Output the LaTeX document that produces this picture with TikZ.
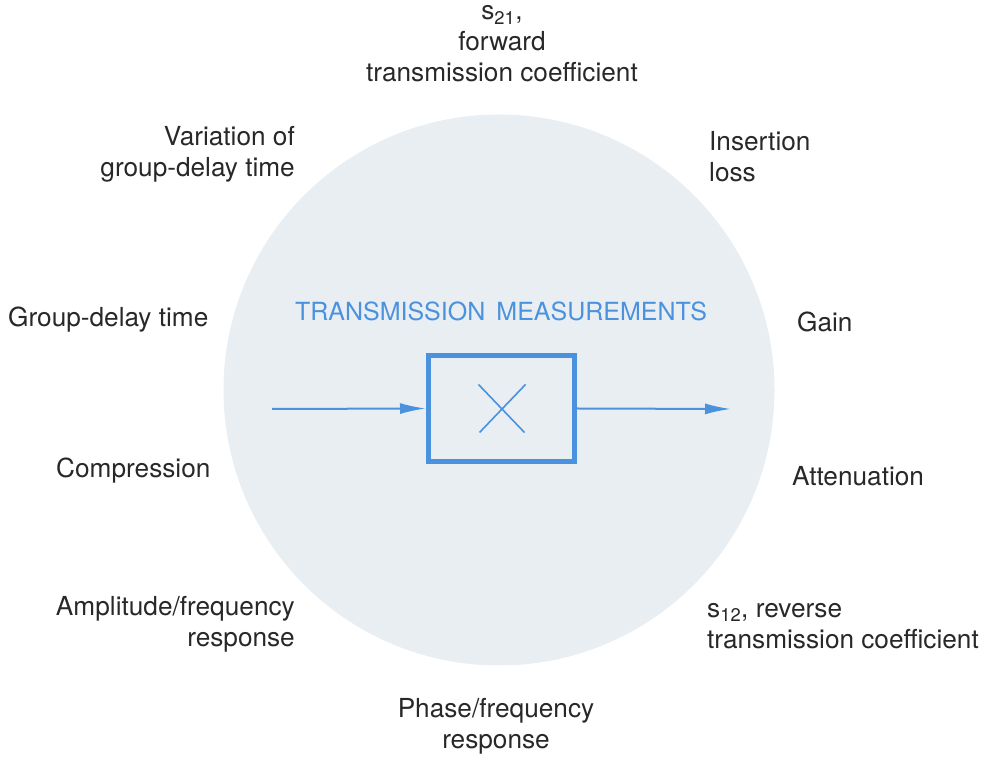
\documentclass[tikz,border=0pt]{standalone}
\usepackage{fontspec}
\setmainfont{TeX Gyre Heros}
\usetikzlibrary{arrows.meta,positioning}
\definecolor{discgray}{RGB}{233,238,242}
\definecolor{tmblue}{RGB}{74,146,222}
\definecolor{txtgray}{RGB}{40,40,40}
\begin{document}
\begin{tikzpicture}[x=1pt,y=1pt,>={Latex[length=26pt,width=11pt]},
 lbl/.style={inner sep=0pt,text=txtgray,font=\fontsize{26.2}{31}\selectfont},
 flow/.style={->,draw=tmblue,line width=2pt}]
\useasboundingbox (0,0) rectangle (984,757);
\node[circle,fill=discgray,minimum size=551pt,inner sep=0pt] (disc) at (499,367) {};
\node[text=tmblue,inner sep=0pt,font=\fontsize{25}{31}\selectfont] (title) at (501,446) {TRANSMISSION\ \,MEASUREMENTS};
\node[draw=tmblue,line width=5pt,minimum width=146pt,minimum height=106pt,inner sep=0pt] (box) at (501.5,348.5) {};
\draw[tmblue,line width=1.6pt] ([shift={(-23,24)}]box.center) -- ([shift={(23,-24)}]box.center);
\draw[tmblue,line width=1.6pt] ([shift={(24,24)}]box.center) -- ([shift={(-22,-24)}]box.center);
\coordinate (in) at (272,348);
\coordinate (out) at (731,348);
\draw[flow] (in) -- (box.west);
\draw[flow] (box.east) -- (out);
% labels round the disc
\node[lbl,align=center] (s21) at (502,713) {s\textsubscript{21},\\forward\\transmission coefficient};
\node[lbl,align=right,anchor=east] (vgd) at (295,603) {Variation of\\group-delay time};
\node[lbl,align=left,anchor=west] (ins) at (709,600) {Insertion\\loss};
\node[lbl,anchor=west] (gd) at (8,437) {Group-delay time};
\node[lbl,anchor=west] (gain) at (797,435) {Gain};
\node[lbl,anchor=west] (comp) at (56,286) {Compression};
\node[lbl,anchor=west] (att) at (792,281) {Attenuation};
\node[lbl,align=right,anchor=east] (amp) at (295,133) {Amplitude/frequency\\response};
\node[lbl,align=left,anchor=west] (s12) at (707,131) {s\textsubscript{12}, reverse\\transmission coefficient};
\node[lbl,align=center] (phase) at (496,31) {Phase/frequency\\response};
\end{tikzpicture}
\end{document}
